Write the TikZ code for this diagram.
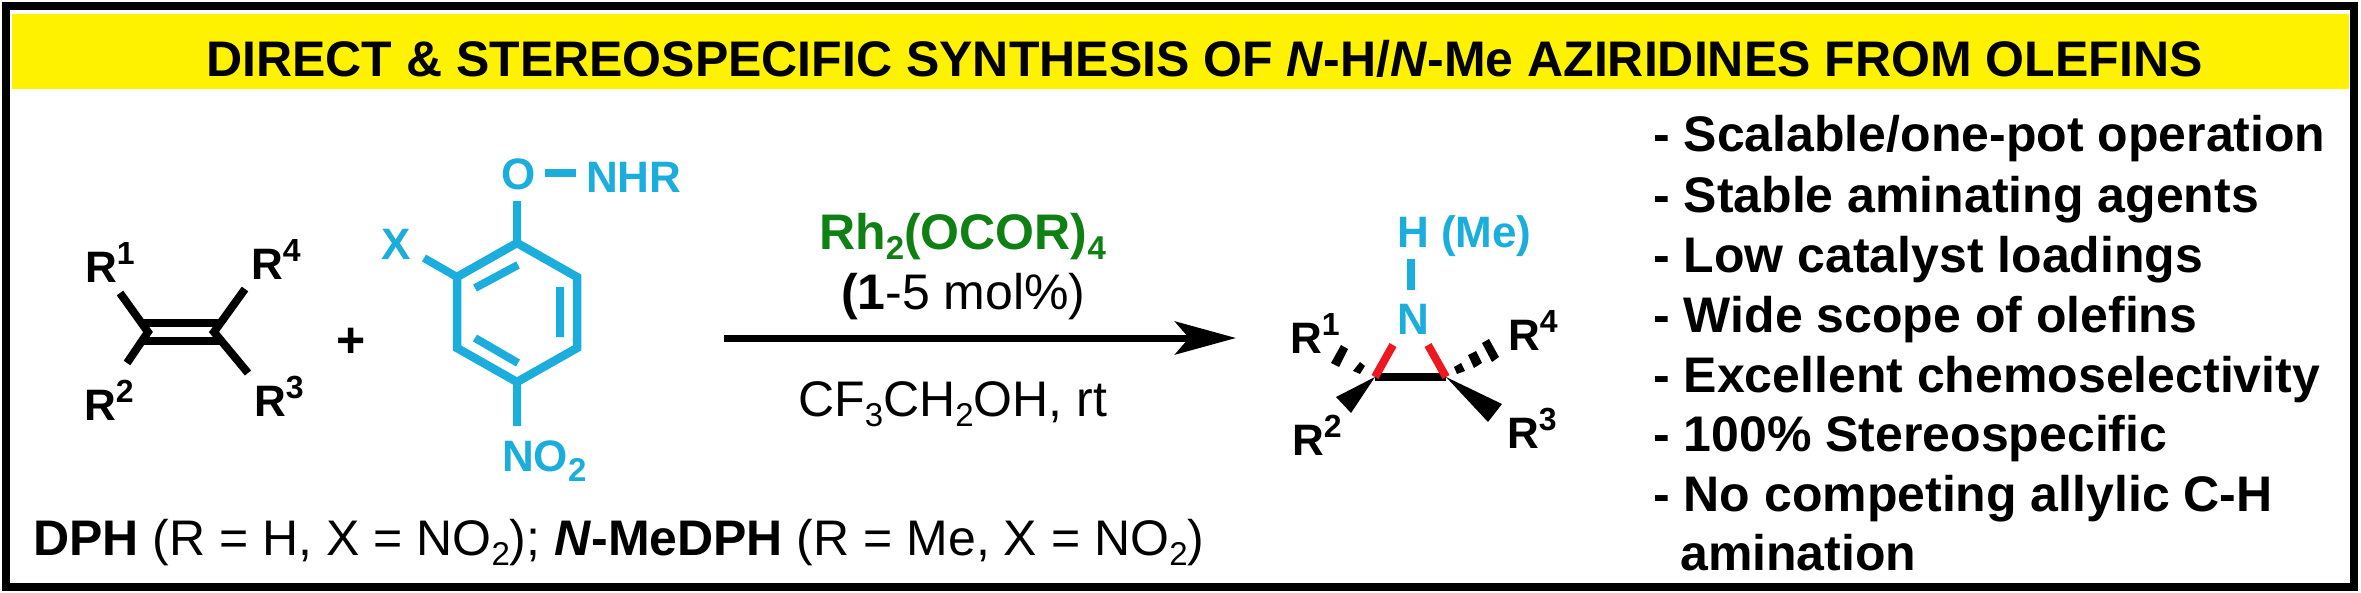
\documentclass[tikz,border=0pt]{standalone}
\usepackage{fontspec}
\setmainfont{Liberation Sans}
\usetikzlibrary{arrows.meta}
\definecolor{ringblue}{RGB}{27,173,220}
\definecolor{catgreen}{RGB}{14,128,20}
\definecolor{bondred}{RGB}{238,24,32}
\newcommand{\upidx}[1]{\raisebox{18pt}{\fontsize{32}{32}\selectfont #1}}
\newcommand{\dnidx}[1]{\raisebox{-10pt}{\fontsize{33}{33}\selectfont #1}}
\tikzset{
  lbl/.style={inner sep=0pt,anchor=base west},
  big/.style={lbl,font=\fontsize{50}{50}\selectfont},
  bigb/.style={lbl,font=\fontsize{50}{50}\selectfont\bfseries},
  atom/.style={lbl,font=\fontsize{44}{44}\selectfont\bfseries},
  bond/.style={line width=8},
  hash/.style={fill=black,draw=none},
}
\begin{document}
\begin{tikzpicture}[x=1pt,y=-1pt]
  \useasboundingbox (0,0) rectangle (2361,592);
  \draw[line width=8] (6,6) rectangle (2354,587);
  \fill[yellow] (12,14) rectangle (2349,89);
  \node[bigb] (title) at (206,76)
    {DIRECT \& STEREOSPECIFIC SYNTHESIS OF \textit{N}-H/\textit{N}-Me AZIRIDINES FROM OLEFINS};
  % olefin
  \coordinate (ol1) at (148,332);
  \coordinate (ol2) at (214,332);
  \coordinate (ol1a) at (120,293);
  \coordinate (ol1b) at (127,363);
  \coordinate (ol2a) at (245,289);
  \coordinate (ol2b) at (248,373);
  \draw[bond] (142,323) -- (221,323) (142,341) -- (221,341);
  \draw[bond] (ol1a) -- (ol1) -- (ol1b) (ol2a) -- (ol2) -- (ol2b);
  \node[atom] (ra1) at (85,282) {R\upidx{1}};
  \node[atom] (ra4) at (251,279) {R\upidx{4}};
  \node[atom] (ra2) at (84,420) {R\upidx{2}};
  \node[atom] (ra3) at (254,416) {R\upidx{3}};
  \node[bigb,anchor=center] (plus) at (351,343) {+};
  % aminating agent
  \begin{scope}[ringblue]
    \coordinate (c1) at (517,243);
    \coordinate (c2) at (577,277);
    \coordinate (c3) at (577,348);
    \coordinate (c4) at (517,382);
    \coordinate (c5) at (457,348);
    \coordinate (c6) at (457,277);
    \draw[bond,line width=8.5] (c1) -- (c2) -- (c3) -- (c4) -- (c5) -- (c6) -- cycle;
    \draw[bond] (475,288) -- (518,265) (560,287) -- (560,337) (475,338) -- (518,363);
    \node[atom,text=ringblue] (ox) at (501,189) {O};
    \node[atom,text=ringblue] (nhr) at (586,192) {NHR};
    \node[atom,text=ringblue] (xsub) at (381,259) {X};
    \node[atom,text=ringblue] (nitro) at (502,471) {NO\dnidx{2}};
    \coordinate (oxend) at (517,201);
    \coordinate (nitroend) at (517,426);
    \coordinate (xend) at (424,258);
    \draw[bond] (c1) -- (oxend) (c4) -- (nitroend) (c6) -- (xend);
    \draw[bond] (545,173) -- (576,173);
  \end{scope}
  \node[big] (dph) at (33,555)
    {\textbf{DPH} (R = H, X = NO\dnidx{2}); \textbf{\textit{N}-MeDPH} (R = Me, X = NO\dnidx{2})};
  % arrow and conditions
  \coordinate (arrowstart) at (724,338);
  \coordinate (arrowend) at (1236,338);
  \draw[line width=7,-{Stealth[length=61pt,width=33pt,inset=14pt]}] (arrowstart) -- (arrowend);
  \node[bigb,text=catgreen] (cat) at (819,249) {Rh\dnidx{2}(OCOR)\dnidx{4}};
  \node[big] (load) at (841,309) {\textbf{(1}-5 mol\%)};
  \node[big] (solv) at (798,416) {CF\dnidx{3}CH\dnidx{2}OH, rt};
  % aziridine
  \coordinate (az1) at (1375,377);
  \coordinate (az2) at (1446,377);
  \coordinate (azn1) at (1393,345);
  \coordinate (azn2) at (1428,345);
  \draw[bond] (az1) -- (az2);
  \draw[bond,bondred] (az1) -- (azn1) (az2) -- (azn2);
  \fill (az1) -- (1336,397) -- (1351,413) -- cycle;
  \fill (az2) -- (1502,404) -- (1488,422) -- cycle;
  \fill[hash] (1353,371) -- (1360,362) -- (1365,366) -- (1360,374) -- cycle;
  \fill[hash] (1331,363) -- (1341,345) -- (1348,349) -- (1339,367) -- cycle;
  \fill[hash] (1454,367) -- (1461,363) -- (1465,371) -- (1457,374) -- cycle;
  \fill[hash] (1468,355) -- (1476,351) -- (1482,363) -- (1474,368) -- cycle;
  \fill[hash] (1482,343) -- (1489,339) -- (1499,357) -- (1492,362) -- cycle;
  \node[atom,text=ringblue] (azn) at (1397,334) {N};
  \node[atom,text=ringblue] (azh) at (1397,247) {H (Me)};
  \coordinate (nhtop) at (1411,259);
  \coordinate (nhbot) at (1411,290);
  \draw[bond,ringblue] (nhtop) -- (nhbot);
  \node[atom] (rb1) at (1290,353) {R\upidx{1}};
  \node[atom] (rb4) at (1508,350) {R\upidx{4}};
  \node[atom] (rb2) at (1292,455) {R\upidx{2}};
  \node[atom] (rb3) at (1507,448) {R\upidx{3}};
  % feature list
  \foreach \i/\txt/\yy in {1/{- Scalable/one-pot operation}/151.5,2/{- Stable aminating agents}/212,
      3/{- Low catalyst loadings}/272,4/{- Wide scope of olefins}/332,5/{- Excellent chemoselectivity}/392,
      6/{- 100\% Stereospecific}/451.5,7/{- No competing allylic C-H}/511}
    \node[bigb] (item\i) at (1653,\yy) {\txt};
  \node[bigb] (item8) at (1680,570) {amination};
\end{tikzpicture}
\end{document}
